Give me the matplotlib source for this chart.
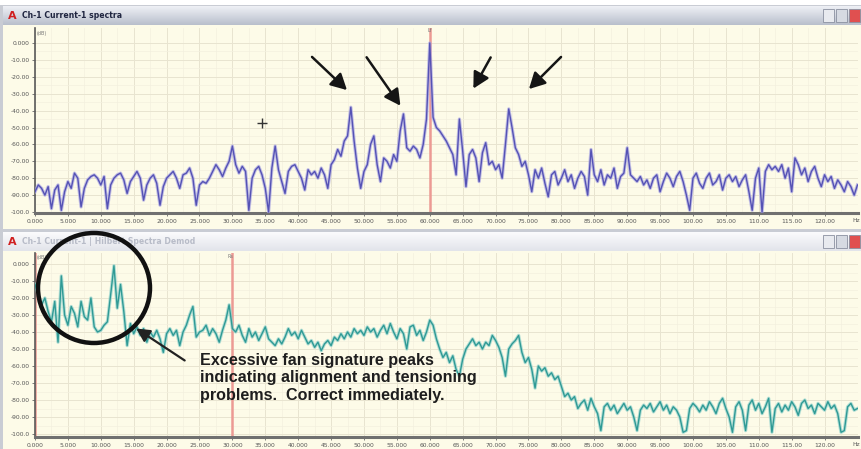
import numpy as np
import matplotlib
matplotlib.use("Agg")
import matplotlib.pyplot as plt
from matplotlib.patches import Rectangle, Ellipse, FancyArrowPatch

W, H = 861, 449

# ---------------- data ----------------
FREQ_STEP = 0.5  # Hz between spectrum lines

top_db = [
    -88, -84, -86, -90, -85, -98, -87, -84, -99, -88,
    -82, -86, -77, -80, -97, -86, -81, -79, -78, -80,
    -84, -79, -98, -84, -80, -78, -77, -81, -89, -82,
    -79, -76, -80, -93, -84, -80, -78, -83, -96, -85,
    -80, -78, -76, -80, -86, -78, -77, -74, -80, -96,
    -84, -82, -83, -80, -76, -72, -75, -79, -74, -70,
    -61, -72, -77, -73, -76, -99, -80, -75, -73, -78,
    -86, -100, -74, -61, -75, -82, -89, -76, -73, -72,
    -76, -80, -87, -75, -78, -76, -80, -74, -78, -86,
    -72, -69, -63, -67, -58, -55, -38, -58, -74, -86,
    -76, -72, -60, -55, -72, -82, -68, -70, -74, -66,
    -70, -52, -42, -62, -64, -61, -63, -68, -60, -45,
    0, -44, -50, -52, -55, -58, -62, -66, -78, -45,
    -64, -85, -66, -63, -68, -82, -65, -59, -72, -70,
    -75, -72, -80, -60, -39, -50, -62, -66, -73, -70,
    -78, -88, -75, -80, -74, -83, -91, -78, -76, -84,
    -80, -75, -82, -78, -86, -80, -76, -79, -90, -63,
    -78, -82, -75, -84, -78, -80, -74, -86, -79, -77,
    -62, -78, -80, -82, -79, -84, -81, -86, -80, -78,
    -88, -82, -77, -80, -85, -79, -76, -82, -90, -99,
    -80, -77, -83, -86, -80, -77, -84, -82, -78, -87,
    -80, -78, -82, -79, -85, -81, -78, -88, -99, -80,
    -74, -100, -76, -72, -75, -73, -76, -72, -80, -74,
    -88, -68, -72, -78, -74, -82, -76, -73, -80, -85,
    -78, -82, -79, -86, -81, -84, -88, -82, -85, -90,
    -84,
]

bot_db = [
    -12, -18, -24, -20, -28, -34, -22, -46, -7, -30,
    -36, -25, -29, -37, -22, -31, -33, -20, -37, -40,
    -39, -36, -34, -18, -1, -26, -12, -28, -48, -35,
    -41, -37, -42, -38, -46, -40, -43, -39, -44, -52,
    -41, -38, -42, -39, -48, -40, -36, -30, -25, -43,
    -40, -39, -36, -42, -38, -41, -46, -39, -33, -24,
    -38, -40, -36, -42, -46, -38, -43, -40, -45, -41,
    -37, -44, -46, -48, -44, -47, -43, -38, -42, -40,
    -44, -39, -43, -47, -45, -49, -46, -51, -47, -45,
    -48, -43, -45, -41, -44, -40, -43, -38, -41, -39,
    -42, -37, -40, -38, -43, -39, -36, -41, -35, -40,
    -44, -38, -41, -50, -37, -36, -42, -39, -45, -40,
    -33, -36, -44, -50, -55, -52, -58, -54, -62, -66,
    -56, -50, -47, -44, -48, -46, -50, -46, -48, -42,
    -45, -49, -55, -66, -50, -47, -45, -42, -52, -58,
    -55, -62, -73, -60, -63, -61, -66, -64, -68, -66,
    -72, -78, -76, -80, -78, -85, -82, -80, -86, -79,
    -84, -88, -98, -84, -82, -86, -83, -88, -85, -82,
    -86, -84, -90, -98, -86, -83, -85, -82, -87, -84,
    -81, -86, -83, -88, -84, -86, -90, -99, -98, -85,
    -82, -84, -87, -83, -86, -81, -84, -88, -82, -79,
    -85, -90, -99, -84, -81, -86, -98, -83, -80, -86,
    -82, -88, -84, -79, -99, -85, -82, -87, -83, -86,
    -81, -84, -89, -82, -80, -85, -83, -88, -82, -84,
    -86, -81, -85, -83, -88, -99, -98, -84, -82, -86,
    -85,
]

x_ticks = [0, 5, 10, 15, 20, 25, 30, 35, 40, 45, 50, 55, 60, 65, 70, 75,
           80, 85, 90, 95, 100, 105, 110, 115, 120]
x_tick_labels = ["0.000", "5.000", "10.000", "15.000", "20.000", "25.000",
                 "30.000", "35.000", "40.000", "45.000", "50.000", "55.000",
                 "60.000", "65.000", "70.000", "75.000", "80.000", "85.000",
                 "90.000", "95.000", "100.00", "105.00", "110.00", "115.00",
                 "120.00"]
y_ticks = [0, -10, -20, -30, -40, -50, -60, -70, -80, -90, -100]
y_tick_labels = ["0.000", "-10.00", "-20.00", "-30.00", "-40.00", "-50.00",
                 "-60.00", "-70.00", "-80.00", "-90.00", "-100.0"]

top_title = "Ch-1 Current-1 spectra"
bot_title = "Ch-1 Current-1 | Hilbert Spectra Demod"
top_markers = [60.0]
bot_markers = [0.0, 30.0]
cursor_pos = (34.5, -47.3)
note = ("Excessive fan signature peaks\n"
        "indicating alignment and tensioning\n"
        "problems.  Correct immediately.")

# ---------------- helpers ----------------
fig = plt.figure(figsize=(W / 100, H / 100), dpi=100)
fig.patch.set_facecolor("white")


def fx(x):
    return x / W


def fy(y):
    return 1 - y / H


def rect(x0, y0, x1, y1, **kw):
    fig.patches.append(Rectangle((fx(x0), fy(y1)), (x1 - x0) / W, (y1 - y0) / H,
                                 transform=fig.transFigure, **kw))


def gradient_bar(x0, y0, x1, y1, c_top, c_bot, zorder=1):
    a = fig.add_axes([fx(x0), fy(y1), (x1 - x0) / W, (y1 - y0) / H], zorder=zorder)
    t = np.linspace(0, 1, 32)[:, None]
    c0 = np.array(matplotlib.colors.to_rgb(c_top))
    c1 = np.array(matplotlib.colors.to_rgb(c_bot))
    img = (1 - t)[..., None] * c0 + t[..., None] * c1
    img = np.repeat(img, 4, axis=1)
    a.imshow(img, aspect="auto", extent=(0, 1, 0, 1))
    a.set_axis_off()
    return a


CREAM = "#fdfbe8"


def window(y_top, y_title_bot, y_bot, title, active):
    rect(0, y_top, W, y_bot, facecolor="#c9ccd4", edgecolor="none", zorder=0)
    rect(3, y_title_bot, W, y_bot - 2, facecolor=CREAM, edgecolor="none", zorder=0.5)
    if active:
        gradient_bar(3, y_top + 1, W, y_title_bot, "#eef0f5", "#b9bfcc", zorder=1)
        tcol = "#1f2540"
    else:
        gradient_bar(3, y_top + 1, W, y_title_bot, "#fbfbfd", "#e2e4ea", zorder=1)
        tcol = "#b8bcc8"
    fig.text(fx(12), fy((y_top + y_title_bot) / 2 + 1), "A", color="#d02020",
             fontsize=8, fontweight="bold", va="center", ha="center", zorder=5)
    fig.text(fx(22), fy((y_top + y_title_bot) / 2 + 1), title, color=tcol,
             fontsize=5.6, fontweight="bold", va="center", ha="left", zorder=5)
    yb0, yb1 = y_top + 4, y_title_bot - 3
    for xb, col in [(823, "#e8eaef"), (836, "#d6dae2"), (849, "#e05050")]:
        rect(xb, yb0, xb + 11, yb1, facecolor=col, edgecolor="#8a90a0",
             linewidth=0.6, zorder=6)


def panel(y_ax_top, y_ax_bot, y0_px, y100_px, values, color, halo, markers,
          marker_label, marker_x_px):
    ax = fig.add_axes([fx(35), fy(y_ax_bot), (858 - 35) / W,
                       (y_ax_bot - y_ax_top) / H], zorder=3)
    ppd = (y100_px - y0_px) / 100.0
    ymax = (y0_px - y_ax_top) / ppd
    ymin = -100 - (y_ax_bot - y100_px) / ppd
    ax.set_facecolor(CREAM)
    ax.set_xlim(0, 125.08)
    ax.set_ylim(ymin, ymax)
    ax.set_xticks(x_ticks)
    ax.set_xticklabels(x_tick_labels)
    ax.set_yticks(y_ticks)
    ax.set_yticklabels(y_tick_labels)
    ax.set_xticks(np.arange(2.5, 125, 5), minor=True)
    ax.set_yticks(np.arange(-95, 5, 10), minor=True)
    ax.grid(which="major", color="#e8e4d0", linewidth=0.7)
    ax.grid(which="minor", color="#f3f0df", linewidth=0.5)
    ax.set_axisbelow(True)
    ax.tick_params(axis="both", which="major", labelsize=4.3,
                   labelcolor="#555555", color="#666666", length=2.5,
                   width=0.6, pad=1.5)
    ax.tick_params(axis="both", which="minor", length=0)
    for s in ["top", "right"]:
        ax.spines[s].set_visible(False)
    ax.spines["left"].set_color("#5a5a5a")
    ax.spines["left"].set_linewidth(1.2)
    ax.spines["bottom"].set_color("#707070")
    ax.spines["bottom"].set_linewidth(2.2)
    freqs = np.arange(len(values)) * FREQ_STEP
    for m in markers:
        ax.axvline(m, color="#ec9a94", linewidth=1.8, zorder=2)
    ax.plot(freqs, values, color=halo, linewidth=2.4, alpha=0.7,
            solid_joinstyle="round", zorder=3)
    ax.plot(freqs, values, color=color, linewidth=1.0,
            solid_joinstyle="round", zorder=4)
    fig.text(fx(37), fy(y_ax_top + 5), "(dB)", fontsize=3.5, color="#777777",
             ha="left", va="center", zorder=6)
    fig.text(fx(marker_x_px), fy(y_ax_top + 3), marker_label, fontsize=3.5,
             color="#777777", ha="center", va="center", zorder=6)
    fig.text(fx(860), fy(y_ax_bot + 8), "Hz", fontsize=4.3, color="#555555",
             ha="right", va="center", zorder=6)
    return ax


# ---------------- top window ----------------
window(5, 25, 231, top_title, True)
ax1 = panel(28, 213, 43, 212, top_db, "#5552b5", "#aaa6e2", top_markers,
            "Lf", 430)
ax1.plot([cursor_pos[0]], [cursor_pos[1]], marker="+", color="#333333",
         markersize=7, markeredgewidth=1.0, zorder=6)

# ---------------- bottom window ----------------
window(231, 251, H + 2, bot_title, False)
ax2 = panel(253, 437, 264, 434, bot_db, "#2f9a95", "#92d2cc", bot_markers,
            "Rs", 230)

# ---------------- annotations ----------------
arrows_top = [((310, 55), (349, 92)), ((365, 55), (402, 108)),
              ((492, 55), (472, 91)), ((563, 55), (527, 91))]
for (x0, y0), (x1, y1) in arrows_top:
    fig.patches.append(FancyArrowPatch(
        (fx(x0), fy(y0)), (fx(x1), fy(y1)), transform=fig.transFigure,
        arrowstyle="-|>,head_length=6,head_width=3.2", mutation_scale=1.6,
        color="#151515", linewidth=1.8, zorder=10))

fig.patches.append(Ellipse((fx(94), fy(288)), 112 / W, 110 / H,
                           transform=fig.transFigure, fill=False,
                           edgecolor="#111111", linewidth=3.2, zorder=10))
fig.patches.append(FancyArrowPatch(
    (fx(187), fy(362)), (fx(134), fy(327)), transform=fig.transFigure,
    arrowstyle="-|>,head_length=5,head_width=2.6", mutation_scale=1.6,
    color="#222222", linewidth=1.6, zorder=10))

fig.text(fx(200), fy(353), note, fontsize=11.6, fontweight="bold",
         family="Liberation Sans", color="#1e1e1e", ha="left", va="top",
         linespacing=1.2, zorder=11)

fig.savefig("out.png", dpi=100, facecolor="white")
